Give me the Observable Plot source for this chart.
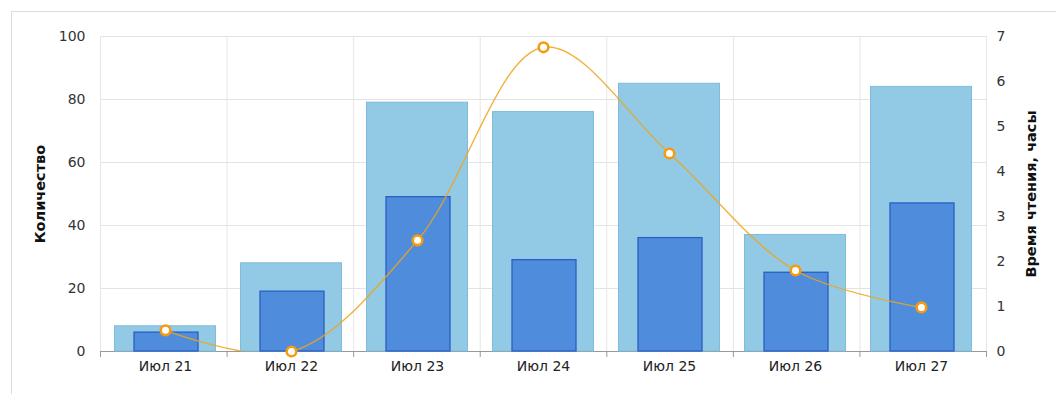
<!DOCTYPE html>
<html>
<head>
<meta charset="utf-8">
<script src="https://cdn.jsdelivr.net/npm/d3@7"></script>
<script src="https://cdn.jsdelivr.net/npm/@observablehq/plot@0.6"></script>
<style>
  body { margin: 0; background: #fff; }
  #wrap { position: relative; width: 1056px; height: 394px; overflow: hidden; }
  #frame { position: absolute; left: 11px; top: 11px; width: 1200px; height: 600px; border: 1px solid #dcdcdc; box-sizing: border-box; }
  .layer { position: absolute; left: 0; top: 0; }
</style>
</head>
<body>
<div id="wrap"><div id="frame"></div></div>
<script>
const categories = ["Июл 21", "Июл 22", "Июл 23", "Июл 24", "Июл 25", "Июл 26", "Июл 27"];
const totalCount = [8, 28, 79, 76, 85, 37, 84];
const readCount = [6, 19, 49, 29, 36, 25, 47];
const readHours = [0.47, 0, 2.47, 6.76, 4.4, 1.8, 0.98];
const countTicks = [0, 20, 40, 60, 80, 100];
const hourTicks = [0, 1, 2, 3, 4, 5, 6, 7];
const leftTitle = "Количество";
const rightTitle = "Время чтения, часы";

const data = categories.map((c, i) => ({cat: c, total: totalCount[i], read: readCount[i], hours: readHours[i]}));
const boundaries = d3.range(categories.length + 1);

const W = 1056, H = 394;
const M = {top: 36, right: 70, bottom: 43, left: 100};
const font = "DejaVu Sans, Verdana, sans-serif";
const common = {
  width: W, height: H,
  marginTop: M.top, marginRight: M.right, marginBottom: M.bottom, marginLeft: M.left,
  style: {background: "transparent", fontFamily: font, fontSize: "14px", color: "#333"}
};

// Layer 1: grid, baseline, tick marks
const grid = Plot.plot({
  ...common,
  x: {type: "linear", domain: [0, categories.length], axis: null},
  y: {domain: [0, 100], axis: null},
  marks: [
    Plot.ruleY(countTicks, {stroke: "#e3e3e3", strokeWidth: 1}),
    Plot.ruleX(boundaries, {stroke: "#e6e6e6", strokeWidth: 1}),
    Plot.axisX({ticks: boundaries, tickFormat: () => "", tickSize: 6, stroke: "#999"}),
    Plot.ruleY([0], {stroke: "#999", strokeWidth: 1.2})
  ]
});

// Layer 2: bars, left axis, category labels, titles
const bars = Plot.plot({
  ...common,
  x: {type: "band", domain: categories, padding: 0, axis: null},
  y: {domain: [0, 100], axis: null},
  marks: [
    Plot.barY(data, {x: "cat", y: "total", fill: "#92c9e4", stroke: "#7fbcdc", strokeWidth: 1, insetLeft: 12.5, insetRight: 12.5}),
    Plot.barY(data, {x: "cat", y: "read", fill: "#4f8cdc", stroke: "#2a5fc6", strokeWidth: 1.3, insetLeft: 32, insetRight: 30}),
    Plot.axisY({ticks: countTicks, tickFormat: d => String(d), tickSize: 0, tickPadding: 15, label: null, fill: "#333"}),
    Plot.axisX({tickSize: 0, tickPadding: 10, label: null, fill: "#222"}),
    Plot.text([leftTitle], {frameAnchor: "left", textAnchor: "middle", dx: -60, rotate: -90, fontWeight: "bold", fontSize: 14.5, fill: "#111"}),
    Plot.text([rightTitle], {frameAnchor: "right", textAnchor: "middle", dx: 45, rotate: -90, fontWeight: "bold", fontSize: 14.5, fill: "#111"})
  ]
});

// Layer 3: reading time line, dots, right axis
const line = Plot.plot({
  ...common,
  x: {type: "band", domain: categories, padding: 0, axis: null},
  y: {domain: [0, 7], axis: null},
  marks: [
    Plot.line(data, {x: "cat", y: "hours", curve: "catmull-rom", stroke: "#eea41c", strokeOpacity: 0.85, strokeWidth: 1.4, clip: true}),
    Plot.dot(data, {x: "cat", y: "hours", r: 4.8, fill: "white", stroke: "#f39c12", strokeWidth: 2.6}),
    Plot.axisY({anchor: "right", ticks: hourTicks, tickFormat: d => String(d), tickSize: 0, tickPadding: 10, label: null, fill: "#333"})
  ]
});

const wrap = document.getElementById("wrap");
for (const p of [grid, bars, line]) {
  p.classList.add("layer");
  wrap.appendChild(p);
}
</script>
</body>
</html>
